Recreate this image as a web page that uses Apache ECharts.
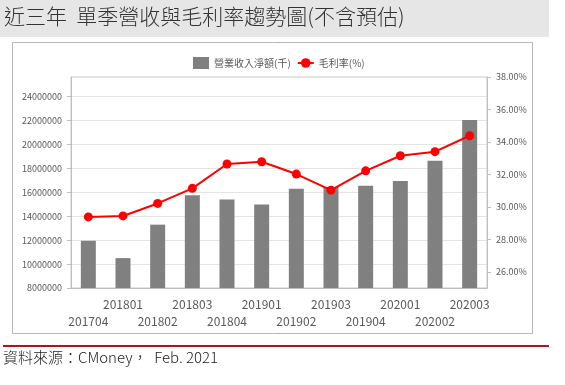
<!DOCTYPE html>
<html>
<head>
<meta charset="utf-8">
<script src="https://cdn.jsdelivr.net/npm/echarts@6/dist/echarts.min.js"></script>
<style>
html,body{margin:0;padding:0;background:#fff;}
#c{width:565px;height:385px;}
</style>
</head>
<body>
<div id="c"></div>
<script>
const categories = ['201704','201801','201802','201803','201804','201901','201902','201903','201904','202001','202002','202003'];
const revenue = [11950000, 10500000, 13300000, 15750000, 15400000, 14980000, 16300000, 16450000, 16550000, 16950000, 18650000, 22050000];
const grossMargin = [29.38, 29.44, 30.21, 31.14, 32.64, 32.78, 32.02, 31.03, 32.22, 33.15, 33.40, 34.38];
const leftTicks = [8000000, 10000000, 12000000, 14000000, 16000000, 18000000, 20000000, 22000000, 24000000];
const rightTicks = [26, 28, 30, 32, 34, 36, 38];
const titleText = '近三年  單季營收與毛利率趨勢圖(不含預估)';
const sourceText = '資料來源：CMoney，  Feb. 2021';
const seriesNames = ['營業收入淨額(千)', '毛利率(%)'];

const FONT = '"Noto Sans CJK TC", "Noto Sans", sans-serif';
const chart = echarts.init(document.getElementById('c'));
chart.setOption({
  animation: false,
  textStyle: {fontFamily: FONT},
  graphic: [
    {type: 'rect', z: -10, shape: {x: 0, y: 0, width: 549, height: 37}, style: {fill: '#e6e6e6'}},
    {type: 'text', left: 4, top: 6, style: {text: titleText, font: '300 21px ' + FONT, fill: '#333'}},
    {type: 'rect', z: -9, shape: {x: 12.5, y: 42.5, width: 520, height: 291}, style: {fill: '#fff', stroke: '#b8b8b8', lineWidth: 1}},
    {type: 'line', shape: {x1: 3, y1: 346, x2: 549, y2: 346}, style: {stroke: '#a81818', lineWidth: 2}},
    {type: 'text', left: 3, top: 350, style: {text: sourceText, font: '300 15px ' + FONT, fill: '#222'}}
  ],
  legend: {
    left: 188, top: 52,
    itemWidth: 16, itemHeight: 12, itemGap: 6,
    textStyle: {fontSize: 10, color: '#595959', fontFamily: FONT},
    data: [{name: seriesNames[0], icon: 'rect'}, {name: seriesNames[1]}]
  },
  grid: {left: 71, right: 78, top: 77, bottom: 97, show: true, borderColor: '#c8c8c8', borderWidth: 1, containLabel: false},
  xAxis: {
    type: 'category', data: categories, boundaryGap: true,
    axisLine: {lineStyle: {color: '#bfbfbf'}},
    axisTick: {alignWithLabel: true, length: 5, lineStyle: {color: '#bfbfbf'}},
    axisLabel: {
      interval: 0, fontSize: 12, color: '#595959', lineHeight: 17, margin: 8,
      formatter: (v, i) => (i % 2 === 0 ? '\n' + v : v)
    }
  },
  yAxis: [
    {
      type: 'value', min: 8000000, max: 25650000, interval: 2000000,
      axisLine: {show: true, lineStyle: {color: '#bfbfbf'}},
      axisTick: {show: true, length: 4, lineStyle: {color: '#bfbfbf'}, customValues: leftTicks},
      axisLabel: {fontSize: 9, color: '#595959', margin: 9, customValues: leftTicks,
        formatter: v => String(v)},
      splitLine: {lineStyle: {color: '#e4e4e4'}}
    },
    {
      type: 'value', min: 25, max: 38, interval: 1, position: 'right',
      axisLine: {show: true, lineStyle: {color: '#bfbfbf'}},
      axisTick: {show: true, length: 4, lineStyle: {color: '#bfbfbf'}, customValues: rightTicks},
      axisLabel: {fontSize: 9, color: '#595959', margin: 9, customValues: rightTicks,
        formatter: v => v.toFixed(2) + '%'},
      splitLine: {show: false}
    }
  ],
  series: [
    {name: seriesNames[0], type: 'bar', data: revenue, barWidth: 15, yAxisIndex: 0,
      itemStyle: {color: '#808080'}},
    {name: seriesNames[1], type: 'line', data: grossMargin, yAxisIndex: 1,
      symbol: 'circle', symbolSize: 9,
      lineStyle: {color: '#ff0000', width: 2}, itemStyle: {color: '#ff0000'}}
  ]
});
</script>
</body>
</html>
